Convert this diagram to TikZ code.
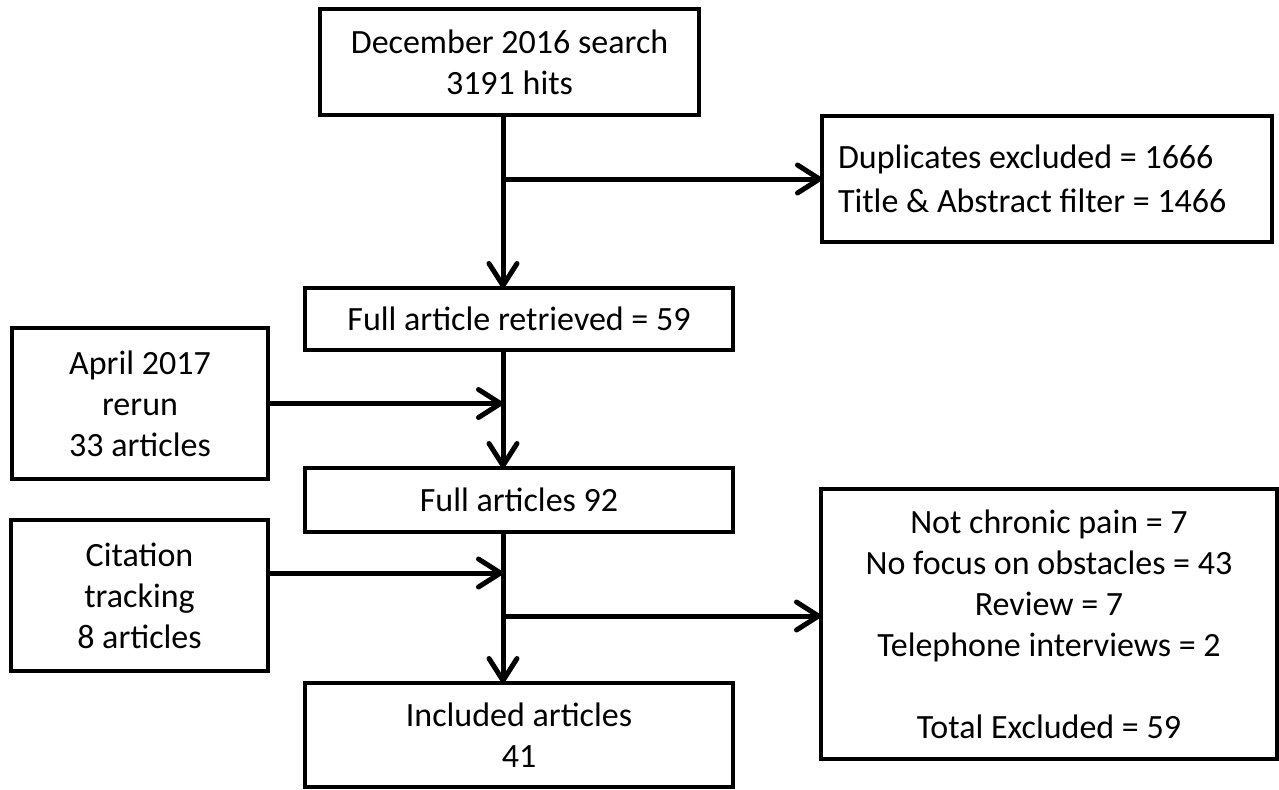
\documentclass[tikz,border=0pt]{standalone}
\usepackage{fontspec}
\setmainfont{Carlito}
\usetikzlibrary{arrows.meta}
\begin{document}
\begin{tikzpicture}[x=0.5pt,y=-0.5pt,
  box/.style={draw=black, line width=1.8pt, fill=white, inner sep=0pt, outer sep=0pt,
    align=center, font=\fontsize{17}{20.5}\selectfont},
  arr/.style={line width=2.5pt, -{Straight Barb[length=11pt,width=14pt,round]}},
  plain/.style={line width=2.5pt}]
\useasboundingbox (0,0) rectangle (1279,789);
\node[box, minimum width=189.5pt, minimum height=53pt, line width=2pt] (search) at (509.5,62) {December 2016 search\\3191 hits};
\node[box, minimum height=63pt, text width=209pt, inner xsep=8pt, align=flush left, font=\fontsize{17}{22}\selectfont] (dup) at (1047,179) {Duplicates excluded = 1666\\Title \& Abstract filter = 1466};
\node[box, minimum width=214pt, minimum height=31pt] (full) at (519,319) {Full article retrieved = 59};
\node[box, minimum width=128pt, minimum height=75.5pt] (april) at (140,403.5) {April 2017\\rerun\\33 articles};
\node[box, minimum width=214pt, minimum height=32pt] (full92) at (519,500) {Full articles 92};
\node[box, minimum width=128.5pt, minimum height=75.5pt] (cit) at (139.5,595.5) {Citation\\tracking\\8 articles};
\node[box, minimum width=228pt, minimum height=135pt] (excl) at (1049,624) {Not chronic pain = 7\\No focus on obstacles = 43\\Review = 7\\Telephone interviews = 2\\[20.5pt]Total Excluded = 59};
\node[box, minimum width=214pt, minimum height=52pt] (incl) at (519,735) {Included articles\\41};
\coordinate (trunk) at (503,0);
\coordinate (br2) at (503,616);
\draw[arr] (search.south -| trunk) -- (full.north -| trunk);
\draw[arr] (trunk |- dup.west) -- (dup.west);
\draw[arr] (full.south -| trunk) -- (full92.north -| trunk);
\draw[arr] (april.east) -- (april.east -| trunk);
\draw[arr] (full92.south -| trunk) -- (incl.north -| trunk);
\draw[arr] ([yshift=11.25pt]cit.east) -- ([yshift=11.25pt]cit.east -| trunk);
\draw[arr] (br2) -- (br2 -| excl.west);
\end{tikzpicture}
\end{document}
